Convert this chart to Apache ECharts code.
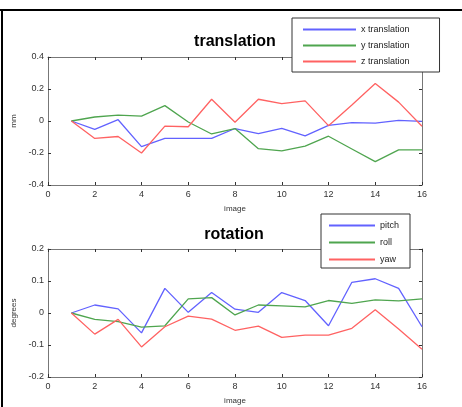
<!DOCTYPE html>
<html>
<head>
<meta charset="utf-8">
<script src="https://cdn.jsdelivr.net/npm/echarts@6/dist/echarts.min.js"></script>
<style>
html,body{margin:0;padding:0;background:#fff;}
#c{width:462px;height:407px;}
</style>
</head>
<body>
<div id="c"></div>
<script>
var images = [1,2,3,4,5,6,7,8,9,10,11,12,13,14,15,16];
var xTicks = [0,2,4,6,8,10,12,14,16];

var xTranslation = [0,-0.052,0.008,-0.16,-0.109,-0.109,-0.109,-0.047,-0.079,-0.046,-0.093,-0.027,-0.01,-0.013,0.004,-0.002];
var yTranslation = [0,0.025,0.037,0.03,0.096,-0.006,-0.081,-0.047,-0.173,-0.187,-0.157,-0.095,-0.175,-0.254,-0.18,-0.18];
var zTranslation = [0,-0.109,-0.097,-0.2,-0.032,-0.036,0.136,-0.008,0.136,0.108,0.126,-0.029,0.1,0.234,0.118,-0.033];

var pitch = [0,0.025,0.013,-0.062,0.077,0.002,0.064,0.012,0.002,0.064,0.039,-0.04,0.096,0.107,0.077,-0.043];
var roll  = [0,-0.02,-0.027,-0.044,-0.04,0.044,0.048,-0.006,0.025,0.022,0.019,0.039,0.03,0.041,0.038,0.044];
var yaw   = [0,-0.066,-0.02,-0.106,-0.043,-0.01,-0.019,-0.054,-0.041,-0.076,-0.069,-0.069,-0.048,0.01,-0.05,-0.113];

var transTicks = [-0.4,-0.2,0,0.2,0.4];
var rotTicks = [-0.2,-0.1,0,0.1,0.2];

var BLUE = '#6262ff', GREEN = '#4fa54f', RED = '#ff6262';

function pairs(vals){ return images.map(function(x,i){ return [x, vals[i]]; }); }

var FONT = 'Liberation Sans';
var axisLineStyle = {color:'#777', width:1};
var tickStyle = {color:'#333', width:1};

function xAx(grid, top, showName){
  return {
    type:'value', gridIndex:grid, position: top?'top':'bottom',
    min:xTicks[0], max:xTicks[xTicks.length-1], interval:xTicks[1]-xTicks[0],
    axisLine:{show:true, onZero:false, lineStyle:axisLineStyle},
    axisTick:{show:true, inside:true, length:3, lineStyle:tickStyle},
    axisLabel:{show:!top, color:'#333', fontSize:9, fontFamily:FONT, margin:5},
    splitLine:{show:false},
    name: showName ? 'image' : '', nameLocation:'middle', nameGap:20,
    nameTextStyle:{fontSize:8, color:'#333', fontFamily:FONT}
  };
}
function yAx(grid, right, ticks, name){
  return {
    type:'value', gridIndex:grid, position: right?'right':'left',
    min:ticks[0], max:ticks[ticks.length-1], interval:ticks[1]-ticks[0],
    axisLine:{show:true, onZero:false, lineStyle:axisLineStyle},
    axisTick:{show:true, inside:true, length:3, lineStyle:tickStyle},
    axisLabel:{show:!right, color:'#333', fontSize:9, fontFamily:FONT, margin:4},
    splitLine:{show:false},
    name: right ? '' : name, nameLocation:'middle', nameGap:29, nameRotate:90,
    nameTextStyle:{fontSize:8, color:'#333', fontFamily:FONT}
  };
}
function ser(name, vals, color, xi, yi){
  return {
    name:name, type:'line', xAxisIndex:xi, yAxisIndex:yi, data:pairs(vals),
    showSymbol:false, symbol:'none', lineStyle:{color:color, width:1.3}, itemStyle:{color:color},
    animation:false
  };
}

var chart = echarts.init(document.getElementById('c'), null, {renderer:'canvas'});
chart.setOption({
  backgroundColor:'#fff',
  animation:false,
  title:[
    {text:'translation', left:230, top:29, textAlign:'center',
     textStyle:{fontSize:16, fontWeight:'bold', color:'#000', fontFamily:FONT}},
    {text:'rotation', left:229, top:222, textAlign:'center',
     textStyle:{fontSize:16, fontWeight:'bold', color:'#000', fontFamily:FONT}}
  ],
  grid:[
    {left:48, right:40, top:57, height:128},
    {left:48, right:40, top:249, height:128}
  ],
  xAxis:[xAx(0,false,true), xAx(0,true,false), xAx(1,false,true), xAx(1,true,false)],
  yAxis:[yAx(0,false,transTicks,'mm'), yAx(0,true,transTicks,''), yAx(1,false,rotTicks,'degrees'), yAx(1,true,rotTicks,'')],
  legend:[
    {data:['x translation','y translation','z translation'], orient:'vertical', left:292, top:18,
     padding:[7,30,6,11], itemWidth:53, itemHeight:2, itemGap:7, icon:'rect',
     backgroundColor:'#fff', borderColor:'#333', borderWidth:1, borderRadius:0, z:10,
     selectedMode:false,
     textStyle:{fontSize:9, color:'#222', fontFamily:FONT}},
    {data:['pitch','roll','yaw'], orient:'vertical', left:321, top:214,
     padding:[7,11,4,8], itemWidth:46, itemHeight:2, itemGap:8, icon:'rect',
     backgroundColor:'#fff', borderColor:'#333', borderWidth:1, borderRadius:0, z:10,
     selectedMode:false,
     textStyle:{fontSize:9, color:'#222', fontFamily:FONT}}
  ],
  series:[
    ser('x translation', xTranslation, BLUE, 0, 0),
    ser('y translation', yTranslation, GREEN, 0, 0),
    ser('z translation', zTranslation, RED, 0, 0),
    ser('pitch', pitch, BLUE, 2, 2),
    ser('roll', roll, GREEN, 2, 2),
    ser('yaw', yaw, RED, 2, 2)
  ],
  graphic:[
    {type:'line', shape:{x1:0, y1:10, x2:462, y2:10}, style:{stroke:'#000', lineWidth:2}, z:100},
    {type:'line', shape:{x1:2, y1:10, x2:2, y2:407}, style:{stroke:'#000', lineWidth:2}, z:100}
  ]
});
</script>
</body>
</html>
